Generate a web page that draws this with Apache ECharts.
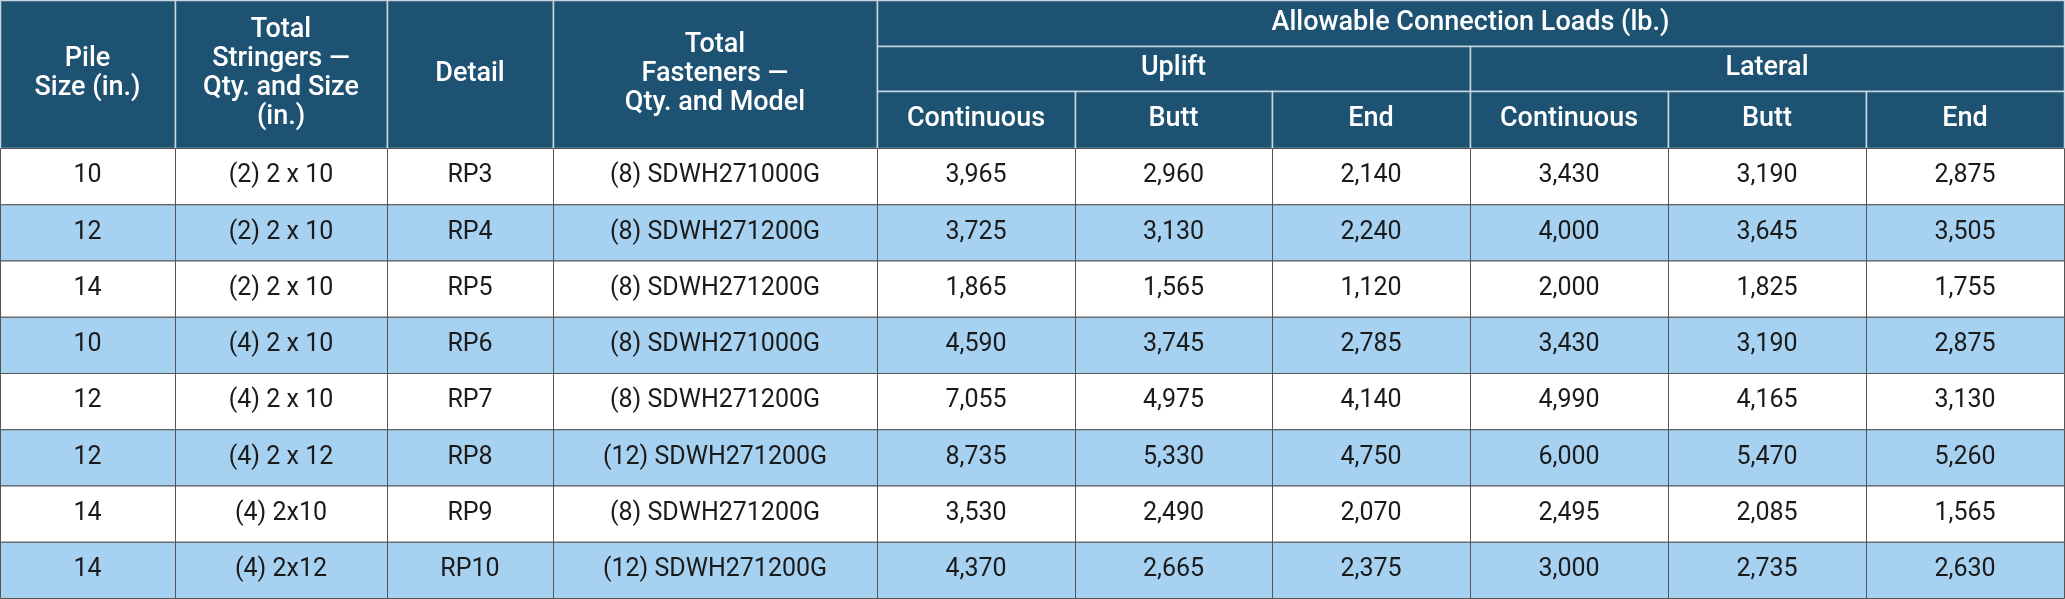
<!DOCTYPE html>
<html><head><meta charset="utf-8">
<script src="https://cdn.jsdelivr.net/npm/echarts@6/dist/echarts.min.js"></script>
<style>html,body{margin:0;padding:0;background:#fff}#c{width:2065px;height:599px}</style>
</head><body><div id="c"></div>
<script>
const pileSize = ['10','12','14','10','12','12','14','14'];
const stringers = ['(2) 2 x 10','(2) 2 x 10','(2) 2 x 10','(4) 2 x 10','(4) 2 x 10','(4) 2 x 12','(4) 2x10','(4) 2x12'];
const detail = ['RP3','RP4','RP5','RP6','RP7','RP8','RP9','RP10'];
const fasteners = ['(8) SDWH271000G','(8) SDWH271200G','(8) SDWH271200G','(8) SDWH271000G','(8) SDWH271200G','(12) SDWH271200G','(8) SDWH271200G','(12) SDWH271200G'];
const upliftContinuous = [3965,3725,1865,4590,7055,8735,3530,4370];
const upliftButt = [2960,3130,1565,3745,4975,5330,2490,2665];
const upliftEnd = [2140,2240,1120,2785,4140,4750,2070,2375];
const lateralContinuous = [3430,4000,2000,3430,4990,6000,2495,3000];
const lateralButt = [3190,3645,1825,3190,4165,5470,2085,2735];
const lateralEnd = [2875,3505,1755,2875,3130,5260,1565,2630];
const headMain = ['Pile\nSize (in.)','Total\nStringers —\nQty. and Size\n(in.)','Detail','Total\nFasteners —\nQty. and Model'];
const headGroup = 'Allowable Connection Loads (lb.)';
const headSub = ['Uplift','Lateral'];
const headLeaf = ['Continuous','Butt','End','Continuous','Butt','End'];

const W = 2065, H = 599;
const colX = [0,175,387,553,877,1075,1272,1470,1668,1866,2064];
const hY = [0,46,91,148];
const rowH = (H - 1 - hY[3]) / 8;
const HEAD = '#1d5273', ALT = '#a6d1f0';
const fmt = v => v.toLocaleString('en-US');

const cells = [];
function cell(x0,y0,x1,y1,text,fill,head){cells.push([x0,y0,x1,y1,text,fill,head?1:0]);}
headMain.forEach((t,i)=>cell(colX[i],0,colX[i+1],hY[3],t,HEAD,true));
cell(colX[4],0,colX[10],hY[1],headGroup,HEAD,true);
cell(colX[4],hY[1],colX[7],hY[2],headSub[0],HEAD,true);
cell(colX[7],hY[1],colX[10],hY[2],headSub[1],HEAD,true);
headLeaf.forEach((t,i)=>cell(colX[4+i],hY[2],colX[5+i],hY[3],t,HEAD,true));
const cols = [pileSize,stringers,detail,fasteners,upliftContinuous.map(fmt),upliftButt.map(fmt),upliftEnd.map(fmt),lateralContinuous.map(fmt),lateralButt.map(fmt),lateralEnd.map(fmt)];
for(let r=0;r<8;r++){
  const y0 = hY[3]+r*rowH;
  cols.forEach((c,i)=>cell(colX[i],y0,colX[i+1],y0+rowH,c[r],r%2?ALT:'#ffffff',false));
}
const FONT = '"Liberation Sans Narrow","Roboto",sans-serif';
const chart = echarts.init(document.getElementById('c'));
chart.setOption({
  animation:false,
  grid:{left:0,right:0,top:0,bottom:0},
  xAxis:{type:'value',min:0,max:W,show:false},
  yAxis:{type:'value',min:0,max:H,inverse:true,show:false},
  series:[{
    type:'custom',
    coordinateSystem:'cartesian2d',
    data:cells,
    encode:{x:[0,2],y:[1,3]},
    renderItem:(params,api)=>{
      const d = cells[params.dataIndex];
      const p0 = api.coord([d[0],d[1]]), p1 = api.coord([d[2],d[3]]);
      const head = d[6]===1;
      return {type:'group',children:[
        {type:'rect',shape:{x:p0[0]+0.5,y:p0[1]+0.5,width:p1[0]-p0[0],height:p1[1]-p0[1]},
         style:{fill:d[5],stroke:head?'#c9d6e0':'#555',lineWidth:head?1.5:1}},
        {type:'text',style:{x:(p0[0]+p1[0])/2,y:(p0[1]+p1[1])/2,text:d[4],align:'center',verticalAlign:'middle',
          fill:head?'#ffffff':'#1a1a1a',font:(head?'500 27px ':'25px ')+FONT,lineHeight:head?29:26}}
      ]};
    }
  }]
});
</script></body></html>
